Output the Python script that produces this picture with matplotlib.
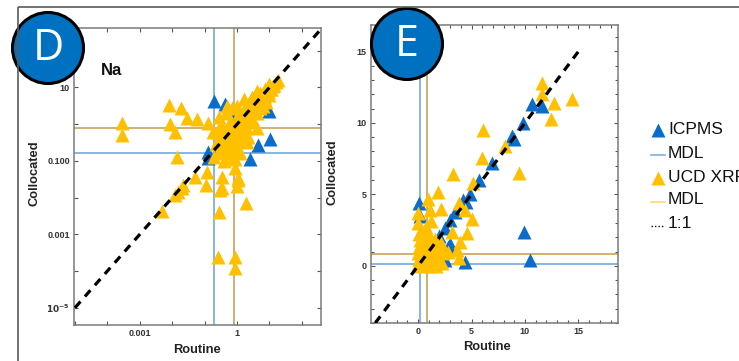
import math

import matplotlib
matplotlib.use("Agg")
import matplotlib.pyplot as plt
from matplotlib.patches import Circle
from matplotlib.ticker import FixedLocator, FuncFormatter, MultipleLocator

# ---------------- Panel D: Na, log-log ----------------
d_icpms_routine = [0.195, 0.43, 9.8, 10.5, 4.5, 2.5, 0.126, 0.13, 0.3, 1.0, 2.0,
                   3.0, 5.0, 7.0, 0.6, 1.5, 0.25, 1.2, 0.8]
d_icpms_coll = [4.27, 3.55, 2.29, 0.40, 0.275, 0.112, 0.174, 0.12, 0.25, 0.9, 1.6,
                3.0, 4.0, 6.0, 0.5, 2.0, 0.35, 0.7, 1.9]

d_xrf_routine = [0.00028, 0.00028, 0.0079, 0.0187, 0.0085, 0.0122, 0.0288, 0.059,
                 0.126, 0.014, 0.118, 0.35, 0.050, 0.0215, 0.11, 0.30, 1.0, 1.9,
                 0.28, 0.0122, 0.0049, 0.26, 0.87, 0.87, 0.02, 1.07, 0.87, 0.35,
                 0.0155, 1.05,
                 15.8, 12.6, 10.0, 8.9, 7.1, 6.3, 5.0, 4.5, 3.5, 3.2, 2.8, 2.5,
                 2.2, 2.0, 1.8, 1.6, 1.4, 1.26, 1.12, 1.0, 0.89, 0.79, 0.71, 0.63,
                 0.56, 0.5, 0.45, 0.4, 0.35, 0.32, 0.28, 0.25, 0.22, 0.2, 0.18,
                 4.0, 6.3, 2.0, 3.2, 1.26, 0.79, 1.6, 2.5, 5.0, 10.0, 0.5, 0.71,
                 1.0, 1.6, 0.32, 0.25, 7.9, 1.0, 0.63, 1.26, 2.0, 0.4, 4.0,
                 17.8, 14.0, 11.0, 9.0,
                 0.63, 1.26, 2.5, 3.55, 5.0, 0.4, 0.79, 1.78, 1.12, 0.56, 7.1,
                 11.2, 4.0, 0.25, 0.89, 2.24, 0.5]
d_xrf_coll = [1.08, 0.51, 3.36, 2.78, 1.02, 0.62, 1.48, 1.39,
              1.08, 0.129, 0.050, 0.036, 0.036, 0.022, 0.022, 0.016, 0.021, 0.0072,
              0.0041, 0.0118, 0.0044, 0.00024, 0.00024, 0.000123, 0.018, 0.035, 0.065, 0.018,
              0.0145, 0.03,
              14.1, 11.2, 12.6, 7.9, 8.9, 5.6, 7.1, 4.0, 5.0, 3.2, 5.6, 2.2,
              3.5, 2.0, 1.4, 2.5, 1.0, 1.6, 0.63, 1.12, 0.45, 0.79, 0.32, 1.26,
              0.5, 0.25, 2.0, 0.63, 0.2, 0.4, 1.6, 0.16, 0.28, 0.126, 0.63,
              2.0, 3.2, 0.79, 1.26, 0.35, 0.18, 0.5, 1.12, 2.8, 6.3, 3.2, 2.8,
              3.2, 5.0, 1.0, 0.63, 4.0, 0.25, 0.126, 0.16, 0.32, 0.1, 0.79,
              16.0, 12.0, 9.0, 10.5,
              0.32, 0.63, 1.6, 2.5, 4.0, 0.35, 0.5, 0.89, 2.0, 1.0, 5.0,
              8.9, 7.9, 0.32, 0.112, 0.45, 0.14]

# ---------------- Panel E: Na, linear ----------------
e_icpms_routine = [10.7, 11.6, 9.85, 8.8, 8.95, 6.9, 5.7, 4.9, 4.5, 4.2, 3.5, 3.0,
                   2.5, 2.8, 2.35, 4.4, 9.9, 10.5, 0.1, 0.2, 2.0, 1.5, 3.0, 2.5,
                   1.0, 0.5]
e_icpms_coll = [11.3, 11.2, 10.0, 9.05, 8.9, 7.2, 6.0, 5.0, 4.5, 4.6, 3.8, 3.2,
                2.65, 1.35, 0.65, 0.3, 2.4, 0.42, 4.4, 3.5, 2.1, 1.6, 1.5, 0.4,
                0.9, 0.5]

e_xrf_routine = [11.6, 11.6, 12.7, 14.4, 12.4, 6.06, 8.15, 5.97, 9.4, 3.3, 5.1,
                 1.9, 0.97, 0.0, 1.1, 2.1, 1.2, 0.75, 3.8, 4.4, 5.0, 4.55, 3.16,
                 3.9, 3.6, 3.85, 2.8, 0.0,
                 0.0, 0.3, 0.6, 0.9, 1.2, 1.5, 1.8, 2.0, 0.1, 0.4, 0.7, 1.0, 1.3,
                 1.6, 1.9, 0.0, 0.3, 0.6, 0.9, 1.2, 1.5, 1.8, 0.1, 0.4, 0.7, 1.0,
                 1.3, 0.2, 0.6, 0.9, 1.2, 0.05, 0.5, 0.8, 1.1, 2.2, 2.3, 2.1, 1.6,
                 0.5, 1.7, 0.2, 1.0, 1.7, 0.4]
e_xrf_coll = [12.8, 12.0, 11.4, 11.7, 10.3, 9.5, 8.35, 7.55, 6.5, 6.4, 5.8,
              5.2, 4.7, 3.7, 3.9, 4.0, 3.15, 2.75, 4.4, 3.9, 3.3, 2.3, 2.4,
              1.7, 1.1, 0.55, 1.0, 3.0,
              0.1, 0.2, 0.1, 0.3, 0.1, 0.3, 0.2, 0.5, 0.5, 0.6, 0.5, 0.7, 0.5,
              0.8, 1.0, 0.9, 1.0, 0.9, 1.1, 1.0, 1.2, 1.4, 1.3, 1.4, 1.5, 1.6,
              1.5, 1.8, 1.9, 2.0, 1.9, 2.2, 0.3, 0.8, 1.3, 0.2, 0.9, 1.6, 1.9,
              1.1, 0.6, 0.0, 0.0, 0.0, 2.3]

# Method detection limits
icpms_mdl_routine = 0.2
icpms_mdl_coll = 0.16
xrf_mdl_routine = 0.82
xrf_mdl_coll = 0.8

one_to_one_d = [1e-5, 400]
one_to_one_e = [-4, 15]

legend_labels = ["ICPMS", "MDL", "UCD XRF", "MDL", "1:1"]

BLUE = "#0A6CCB"
YELLOW = "#FFC000"
MDL_BLUE = "#7FB0E0"
MDL_TAN = "#CDAA66"
SPINE = "#7a7a7a"
FONT = "Liberation Sans"
MS = 9.4

fig = plt.figure(figsize=(7.39, 3.61), dpi=100)
fig.patch.set_facecolor("white")

W, H = 739.0, 361.0


def rect(l, t, r, b):
    return [l / W, (H - b) / H, (r - l) / W, (b - t) / H]


ax_d = fig.add_axes(rect(74, 28, 321, 325))
ax_e = fig.add_axes(rect(371, 25, 618, 323))


def style_axes(ax):
    for s in ax.spines.values():
        s.set_color(SPINE)
        s.set_linewidth(1.1)
    ax.tick_params(which="both", direction="in", top=True, right=True,
                   color="#555555", width=0.8, labelsize=6.5,
                   labelcolor="#333333")
    ax.tick_params(which="major", length=3.2, pad=3)
    ax.tick_params(which="minor", length=2.2)
    for lab in ax.get_xticklabels() + ax.get_yticklabels():
        lab.set_fontfamily(FONT)
        lab.set_fontweight("bold")


def draw_panel(ax, icx, icy, xrx, xry, line):
    ax.axvline(icpms_mdl_routine, color=MDL_BLUE, lw=1.3, zorder=1)
    ax.axhline(icpms_mdl_coll, color=MDL_BLUE, lw=1.3, zorder=1)
    ax.axvline(xrf_mdl_routine, color=MDL_TAN, lw=1.3, zorder=1)
    ax.axhline(xrf_mdl_coll, color=MDL_TAN, lw=1.3, zorder=1)
    ax.plot(icx, icy, ls="none", marker="^", ms=MS, mfc=BLUE, mec="none", zorder=2)
    ax.plot(xrx, xry, ls="none", marker="^", ms=MS, mfc=YELLOW, mec="none", zorder=3)
    ax.plot(line, line, color="black", lw=2.3, dashes=(2.6, 2.1), zorder=4)


# Panel D
draw_panel(ax_d, d_icpms_routine, d_icpms_coll, d_xrf_routine, d_xrf_coll, one_to_one_d)
ax_d.set_xscale("log")
ax_d.set_yscale("log")
ax_d.set_xlim(10 ** -5.03, 10 ** 2.59)
ax_d.set_ylim(10 ** -5.47, 10 ** 2.62)
decades = [10.0 ** k for k in range(-5, 3)]
ax_d.xaxis.set_major_locator(FixedLocator(decades))
ax_d.yaxis.set_major_locator(FixedLocator(decades))
ax_d.xaxis.set_minor_locator(FixedLocator([]))
ax_d.yaxis.set_minor_locator(FixedLocator([]))
x_names = {-3: "0.001", 0: "1"}
y_names = {-5: r"$\mathbf{10^{-5}}$", -3: "0.001", -1: "0.100", 1: "10"}


def fmt_from(names):
    def f(v, pos):
        k = int(round(math.log10(v)))
        return names.get(k, "")
    return FuncFormatter(f)


ax_d.xaxis.set_major_formatter(fmt_from(x_names))
ax_d.yaxis.set_major_formatter(fmt_from(y_names))
style_axes(ax_d)
ax_d.text(0.15, 0.857, "Na", transform=ax_d.transAxes, ha="center", va="center",
          fontsize=12, fontweight="bold", family=FONT, color="#111111")

# Panel E
draw_panel(ax_e, e_icpms_routine, e_icpms_coll, e_xrf_routine, e_xrf_coll, one_to_one_e)
ax_e.set_xlim(-4.4, 18.7)
ax_e.set_ylim(-4.0, 16.85)
ax_e.xaxis.set_major_locator(FixedLocator([0, 5, 10, 15]))
ax_e.yaxis.set_major_locator(FixedLocator([0, 5, 10, 15]))
ax_e.xaxis.set_minor_locator(MultipleLocator(1))
ax_e.yaxis.set_minor_locator(MultipleLocator(1))
style_axes(ax_e)

for ax, lx, ly, rx, ry in [(ax_d, -0.158, 0.512, 0.498, -0.084),
                           (ax_e, -0.154, 0.505, 0.47, -0.081)]:
    ax.set_xlabel("Routine", fontsize=9.3, fontweight="bold", family=FONT, color="#222222")
    ax.set_ylabel("Collocated", fontsize=9.3, fontweight="bold", family=FONT, color="#222222")
    ax.xaxis.set_label_coords(rx, ry)
    ax.yaxis.set_label_coords(lx, ly)
    ax.xaxis.label.set_verticalalignment("center")
    ax.yaxis.label.set_verticalalignment("center")

# Overlay in pixel units for frame, badges and legend
ov = fig.add_axes([0, 0, 1, 1], zorder=10)
ov.set_xlim(0, W)
ov.set_ylim(H, 0)
ov.axis("off")
ov.patch.set_alpha(0)

ov.plot([18, W], [7, 7], color="#5a5a5a", lw=1.2, solid_capstyle="butt")
ov.plot([18, 18], [7, H], color="#5a5a5a", lw=1.2, solid_capstyle="butt")

for (cx, cy, letter) in [(48, 48, "D"), (407, 44, "E")]:
    ov.add_patch(Circle((cx, cy), 35.5, facecolor="#0070C0", edgecolor="black", lw=2.2))
    ov.text(cx, cy + 1, letter, color="white", fontsize=31, family="Open Sans",
            ha="center", va="center")

rows = [129, 153, 177, 200, 224]
hx0, hx1, tx = 651, 665, 668
ov.plot([658], [rows[0] + 1], ls="none", marker="^", ms=10, mfc=BLUE, mec="none")
ov.plot([hx0, hx1], [rows[1] + 2, rows[1] + 2], color=MDL_BLUE, lw=1.2)
ov.plot([658], [rows[2] + 1], ls="none", marker="^", ms=10, mfc=YELLOW, mec="none")
ov.plot([hx0, hx1], [rows[3] + 2, rows[3] + 2], color="#FFD966", lw=1.2)
ov.plot([hx0, hx1], [rows[4] + 2, rows[4] + 2], color="black", lw=1.0, ls=(0, (1, 1.5)))
for y, lab in zip(rows, legend_labels):
    ov.text(tx, y, lab, fontsize=12.5, family=FONT, ha="left", va="center", color="#111111")

fig.savefig("out.png", dpi=100)
